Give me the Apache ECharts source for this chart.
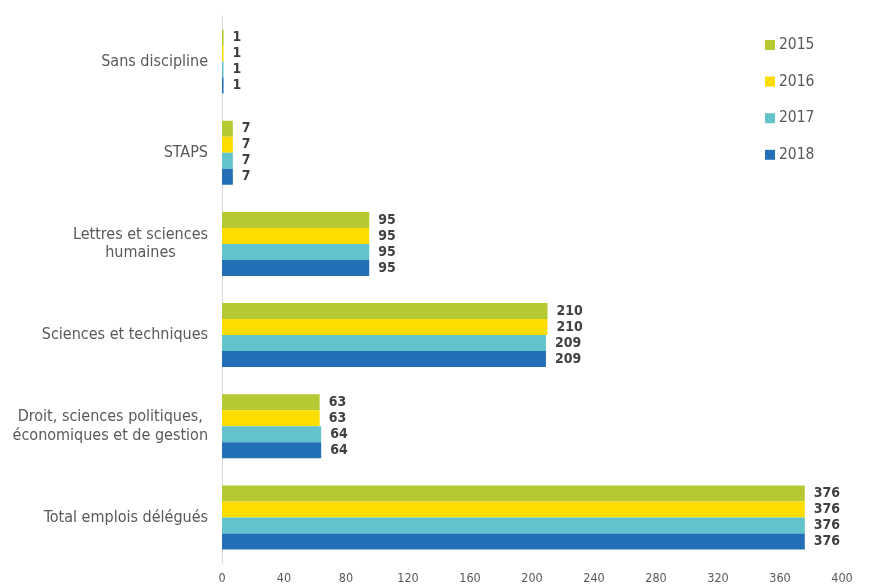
<!DOCTYPE html>
<html>
<head>
<meta charset="utf-8">
<script src="https://cdn.jsdelivr.net/npm/echarts@6/dist/echarts.min.js"></script>
<style>
html,body{margin:0;padding:0;background:#fff;}
#chart{width:869px;height:588px;}
</style>
</head>
<body>
<div id="chart"></div>
<script>
var categories = ["Sans discipline", "STAPS", "Lettres et sciences\nhumaines", "Sciences et techniques", "Droit, sciences politiques,\néconomiques et de gestion", "Total emplois délégués"];
var years = ["2015", "2016", "2017", "2018"];
var values2015 = [1, 7, 95, 210, 63, 376];
var values2016 = [1, 7, 95, 210, 63, 376];
var values2017 = [1, 7, 95, 209, 64, 376];
var values2018 = [1, 7, 95, 209, 64, 376];
var xTicks = [0, 40, 80, 120, 160, 200, 240, 280, 320, 360, 400];

var colors = ["#b6c932", "#fddd00", "#63c3cd", "#2370b6"];
var seriesValues = [values2015, values2016, values2017, values2018];
var FONT = "'DejaVu Sans Condensed', 'DejaVu Sans', sans-serif";

var chart = echarts.init(document.getElementById('chart'));
chart.setOption({
  animation: false,
  textStyle: {fontFamily: FONT},
  grid: {left: 222, right: 27, top: 16, bottom: 25, containLabel: false},
  legend: {
    orient: 'vertical',
    left: 765, top: 37, padding: 0,
    itemWidth: 10, itemHeight: 10,
    itemGap: 20.6,
    icon: 'rect',
    textStyle: {fontFamily: FONT, fontSize: 15.5, lineHeight: 16, color: '#595959', padding: [0,0,0,-1]},
    data: years
  },
  xAxis: {
    type: 'value', min: xTicks[0], max: xTicks[xTicks.length-1], interval: 40,
    axisLine: {show: false}, axisTick: {show: false}, splitLine: {show: false},
    axisLabel: {fontFamily: FONT, fontSize: 12.5, color: '#595959', margin: 9}
  },
  yAxis: {
    type: 'category', data: categories, inverse: true,
    axisLine: {show: true, lineStyle: {color: '#d9d9d9', width: 1}},
    axisTick: {show: false},
    axisLabel: {
      interval: 0, margin: 14,
      formatter: function(v){ return v.split('\n').map(function(l){ return '{c|' + l + '}'; }).join('\n'); },
      rich: {c: {fontFamily: FONT, fontSize: 16, color: '#595959', lineHeight: 18.5, align: 'center'}}
    }
  },
  series: years.map(function(y, i){
    return {
      name: y, type: 'bar', data: seriesValues[i],
      barWidth: 16, barGap: '0%', barCategoryGap: '30%',
      itemStyle: {color: colors[i]},
      label: {show: true, position: 'right', distance: 9, fontFamily: FONT, fontSize: 14, fontWeight: 'bold', color: '#404040'}
    };
  })
});
</script>
</body>
</html>
